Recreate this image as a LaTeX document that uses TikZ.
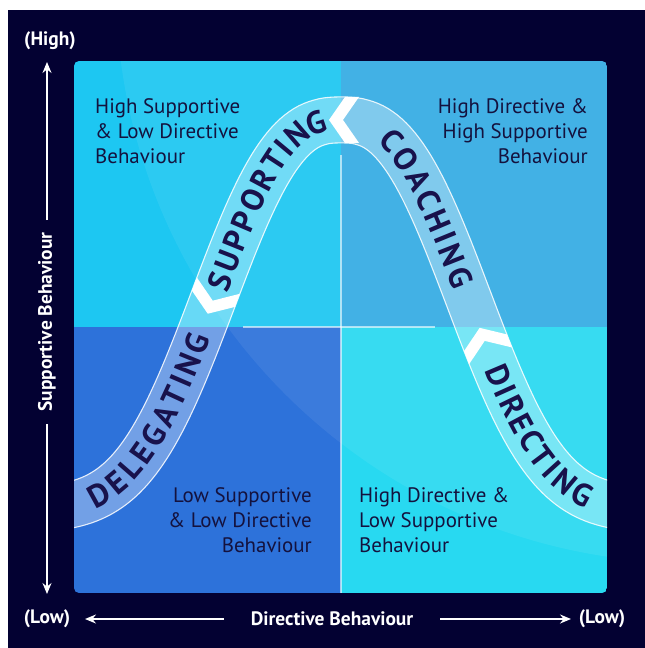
\documentclass[tikz,border=0pt]{standalone}
\usepackage{fontspec}
\setmainfont{PT Sans}
\usepackage{tikz}
\usetikzlibrary{arrows.meta,positioning,decorations.text}

\definecolor{navybg}{RGB}{3,1,50}
\definecolor{inktext}{RGB}{20,18,62}
\definecolor{bandink}{RGB}{24,18,76}
\definecolor{qtl}{RGB}{29,199,242}
\definecolor{qtr}{RGB}{52,172,228}
\definecolor{qbl}{RGB}{45,114,218}
\definecolor{qbr}{RGB}{40,217,241}
\newcommand{\wordfont}{\bfseries\fontsize{32}{32}\selectfont}

\begin{document}
\begin{tikzpicture}[x=1bp,y=-1bp,
        declare function={
          uu(\x)=abs(\x-341)/154+0.0001;
          yc(\x)=120+390*(1-exp(-(uu(\x)^2.6)));
          yp(\x)=sign(\x-341)*390*exp(-(uu(\x)^2.6))*2.6*(uu(\x)^1.6)/154;
          nn(\x)=sqrt(1+yp(\x)^2);
        },
        quad/.style={font=\fontsize{21}{25.5}\selectfont, text=inktext, inner sep=0pt},
        axislabel/.style={font=\bfseries\fontsize{19.5}{22}\selectfont, text=white},
        axisline/.style={white, line width=2pt, -{Stealth[length=11pt,width=9pt]}},
        divider/.style={white, opacity=0.6, line width=1.2pt},
        bandfill/.style={white, opacity=0.33},
        bandedge/.style={white, opacity=0.85, line width=1.1pt},
        bandword/.style={decorate, decoration={text along path, text={|\wordfont|#1},
            text color=bandink, text align={fit to path}, raise=-11pt}},
        chevron/.pic={\fill[white] (-12,0) -- (4,-23) -- (18,-23) -- (2,0) -- (18,23) -- (4,23) -- cycle;}
    ]
        \useasboundingbox (0,0) rectangle (645,648);
        \fill[white] (0,0) rectangle (645,648);
        \fill[navybg] (8,10) rectangle (645,648);

        \begin{scope}
            \clip[rounded corners=5pt] (74,61) rectangle (607,593);
            \fill[qtl] (74,61) rectangle (341,327);
            \fill[qtr] (341,61) rectangle (607,327);
            \fill[qbl] (74,327) rectangle (341,593);
            \fill[qbr] (341,327) rectangle (607,593);
            \fill[white, opacity=0.07] (693,-14) circle (577bp);
            \draw[divider] (341,155) -- (341,593);
            \draw[divider] (243,327) -- (435,327);

            % the bell shaped band
            \fill[bandfill] plot[domain=60:622, samples=161, variable=\t] ({\t-23*yp(\t)/nn(\t)},{yc(\t)+23/nn(\t)})
                -- plot[domain=622:60, samples=161, variable=\t] ({\t+23*yp(\t)/nn(\t)},{yc(\t)-23/nn(\t)}) -- cycle;
            \draw[bandedge] plot[domain=60:622, samples=161, variable=\t] ({\t-23*yp(\t)/nn(\t)},{yc(\t)+23/nn(\t)});
            \draw[bandedge] plot[domain=60:622, samples=161, variable=\t] ({\t+23*yp(\t)/nn(\t)},{yc(\t)-23/nn(\t)});

            \pic[rotate={-atan(yp(212))}] (chevA) at (212,{yc(212)}) {chevron};
            \pic[rotate={-atan(yp(341))}] (chevB) at (341,{yc(341)}) {chevron};
            \pic[rotate={-atan(yp(484))}] (chevC) at (484,{yc(484)}) {chevron};

            \path[bandword=DELEGATING] plot[domain=90:200, samples=40, variable=\t] (\t,{yc(\t)});
            \path[bandword=SUPPORTING] plot[domain=217:326, samples=40, variable=\t] (\t,{yc(\t)});
            \path[bandword=COACHING] plot[domain=385:464, samples=40, variable=\t] (\t,{yc(\t)});
            \path[bandword=DIRECTING] plot[domain=495:591, samples=40, variable=\t] (\t,{yc(\t)});
        \end{scope}

        \node[quad, anchor=north west, align=left] (hsld) at (95,98) {High Supportive\\\& Low Directive\\Behaviour};
        \node[quad, anchor=north east, align=right] (hdhs) at (588,98) {High Directive \&\\High Supportive\\Behaviour};
        \node[quad, anchor=north east, align=right] (lsld) at (312,487) {Low Supportive\\\& Low Directive\\Behaviour};
        \node[quad, anchor=north west, align=left] (hdls) at (359,487) {High Directive \&\\Low Supportive\\Behaviour};

        \node[axislabel] (high) at (50,41) {(High)};
        \node[axislabel] (lowl) at (47,619) {(Low)};
        \node[axislabel] (lowr) at (602,619) {(Low)};
        \node[axislabel, rotate=90, inner xsep=12pt] (supb) at (47,322) {Supportive Behaviour};
        \node[axislabel, inner xsep=27pt] (dirb) at (332,619) {Directive Behaviour};
        \coordinate (ytop) at (47,62);
        \coordinate (ybot) at (47,594);
        \coordinate (xleft) at (85,619);
        \coordinate (xright) at (571,619);

        \draw[axisline] (supb) -- (ytop);
        \draw[axisline] (supb) -- (ybot);
        \draw[axisline] (dirb) -- (xleft);
        \draw[axisline] (dirb) -- (xright);
    \end{tikzpicture}
\end{document}
